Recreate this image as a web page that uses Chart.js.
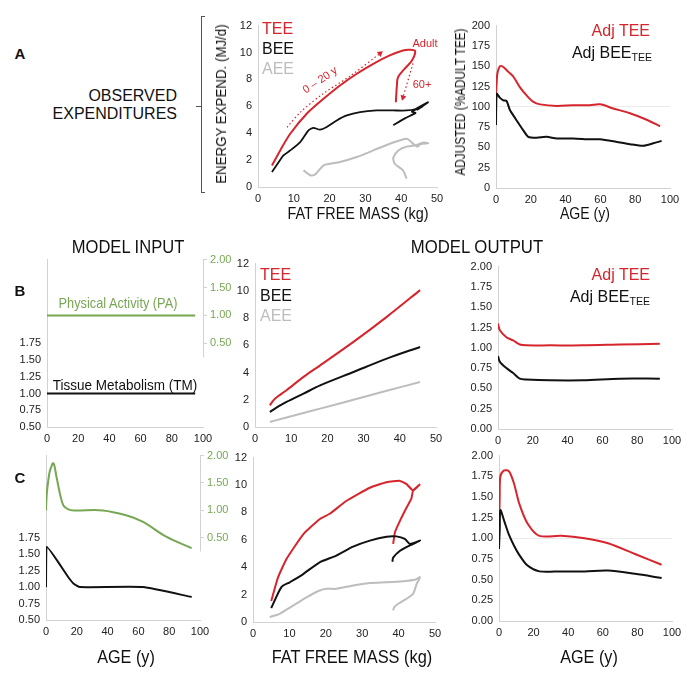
<!DOCTYPE html>
<html>
<head>
<meta charset="utf-8">
<script src="https://cdn.jsdelivr.net/npm/chart.js@4.4.0/dist/chart.umd.min.js"></script>
<style>
  body { margin: 0; background: #fff; }
  #fig { position: relative; width: 695px; height: 681px; overflow: hidden; background: #fff;
         font-family: 'Liberation Sans', Arial, sans-serif; color: #111; }
  #fig canvas { position: absolute; }
  .t { position: absolute; white-space: nowrap; line-height: 1; }
  .t sub { font-size: 0.66em; vertical-align: -0.25em; line-height: 0; }
</style>
</head>
<body>
<div id="fig"></div>
<script>
// ---- A: observed expenditures vs fat free mass (kg, MJ/d) ----
const obsFfmTee = [3.9, 6.2, 9, 13.6, 18.3, 22.9, 27.6, 32.2, 36.8, 40.5, 42.5, 43.9, 43, 41, 39.1, 38.8, 38.5];
const obsTee    = [1.6, 2.72, 3.96, 5.45, 6.56, 7.55, 8.42, 9.16, 9.78, 10.15, 10.2, 10.1, 9.4, 8.8, 8.15, 7.55, 6.3];
const obsFfmBee = [3.9, 5.8, 7.1, 9, 11.8, 14.1, 15.5, 17.3, 19.2, 22, 24.8, 28.5, 33.1, 37.8, 41.5, 44, 46, 47.5, 44.5, 46, 43, 44, 41, 37.8];
const obsBee    = [1.11, 1.86, 2.35, 2.72, 3.34, 4.21, 4.4, 4.26, 4.46, 4.95, 5.32, 5.57, 5.69, 5.69, 5.69, 5.8, 6.1, 6.3, 5.75, 6.0, 5.6, 5.5, 5.1, 4.6];
const obsFfmAee = [12.7, 14.6, 16, 18.3, 20.1, 22.9, 27.6, 32.2, 36.8, 41.5, 43, 44.5, 45.5, 47.5, 46, 44, 41.5, 39.2, 37.8, 38.2, 40.5, 41.5];
const obsAee    = [1.24, 0.87, 0.94, 1.61, 1.73, 1.86, 2.23, 2.72, 3.22, 3.59, 3.3, 3.0, 3.2, 3.25, 3.3, 3.1, 3.0, 2.72, 2.2, 1.73, 1.24, 0.62];
// dotted annotation arrows
const arrowYoungFfm = [8.1, 12, 18, 26, 34.1];
const arrowYoungMj  = [4.44, 5.6, 6.9, 8.3, 9.93];
const arrowOldFfm   = [43.3, 40.5];
const arrowOldMj    = [9.19, 6.67];

// ---- A: adjusted expenditures vs age (% adult TEE) ----
const obsAgeTee = [0, 0.4, 0.8, 2.3, 4.2, 7.1, 10, 13.8, 17.6, 21.5, 25.3, 35, 44.4, 54, 59.8, 67.4, 77, 86.6, 94.3];
const obsAdjTee = [115, 130, 141, 150, 149, 143, 137, 124, 114, 106, 103, 101, 102, 102, 103, 98, 92, 84, 76];
const obsAgeBee = [0, 0.4, 2.3, 4.2, 6.1, 8, 11, 15.7, 18.6, 23.4, 29, 35, 44.4, 54, 59.8, 69, 77, 84.7, 90.4, 95.2];
const obsAdjBee = [77.6, 116, 111, 108, 107, 96, 86, 71, 63, 62, 63, 61, 61, 60, 60, 57, 54, 52, 55, 58];

// ---- B: model with constant inputs ----
const inAgeB = [0, 95];
const paB    = [1, 1];
const tmB    = [1, 1];
const ffmB   = [4.1, 5.5, 8.7, 13.4, 18, 27.2, 36.4, 45.6];
const teeB   = [1.59, 2.08, 2.7, 3.68, 4.53, 6.25, 8.09, 10.05];
const beeB   = [1.1, 1.35, 1.84, 2.45, 3.06, 4.04, 5.02, 5.88];
const aeeB   = [0.37, 0.47, 0.7, 1.03, 1.35, 2.0, 2.66, 3.31];
const ageB   = [0, 1, 4.8, 8.7, 12.5, 16.3, 30, 49, 70, 93];
const adjTeeB = [1.30, 1.22, 1.13, 1.09, 1.04, 1.03, 1.03, 1.03, 1.04, 1.05];
const adjBeeB = [0.90, 0.83, 0.75, 0.69, 0.62, 0.61, 0.60, 0.60, 0.62, 0.62];

// ---- C: model with age-varying inputs ----
const paAgeC = [0, 0.5, 1.5, 2.6, 4.8, 6.9, 9.1, 11.3, 14.5, 18, 37, 52, 63, 78, 94.6];
const paC    = [1.0, 1.3, 1.55, 1.73, 1.86, 1.6, 1.3, 1.09, 1.02, 1.0, 1.0, 0.91, 0.79, 0.52, 0.31];
const tmAgeC = [0, 0.5, 14.5, 18, 22, 63, 94.6];
const tmC    = [1.0, 1.61, 1.15, 1.05, 1.0, 1.0, 0.85];
const teeFfmC = [5.0, 6.9, 9.2, 13.8, 18.3, 21.1, 25.7, 32.1, 36.7, 40.4, 42.2, 44, 45.9, 44, 43.5, 42.2, 40.4, 39, 38.5];
const teeC    = [1.53, 3.27, 4.6, 6.4, 7.5, 7.9, 8.85, 9.8, 10.2, 10.3, 10.06, 9.6, 10.06, 9.6, 9.0, 8.36, 7.4, 6.55, 5.7];
const beeFfmC = [5.0, 7.8, 10.1, 13.8, 18.3, 22.9, 27.5, 32.1, 36.7, 39.4, 41.7, 43.1, 45.9, 43.1, 40.4, 38.5, 38.3];
const beeC    = [1.02, 2.55, 2.9, 3.5, 4.36, 4.85, 5.5, 5.94, 6.23, 6.25, 6.06, 5.7, 5.94, 5.6, 5.2, 4.7, 4.4];
const aeeFfmC = [4.6, 7.3, 11, 14.7, 18.3, 20.2, 22.9, 27.5, 32.1, 36.7, 41.3, 44.5, 45.9, 45, 44, 42.2, 39.9, 38.8, 38.5];
const aeeC    = [0.36, 0.6, 1.2, 1.8, 2.3, 2.42, 2.42, 2.67, 2.84, 2.9, 2.98, 3.08, 3.27, 2.8, 2.06, 1.7, 1.33, 1.09, 0.85];
const ageC    = [0, 0.4, 0.8, 3, 5.8, 8.7, 11.7, 16.5, 23.3, 36, 49.5, 63, 78.6, 94];
const adjTeeC = [1.0, 1.5, 1.75, 1.82, 1.81, 1.66, 1.42, 1.18, 1.03, 1.03, 1.0, 0.94, 0.81, 0.68];
const adjBeeC = [0.87, 1.1, 1.34, 1.21, 1.04, 0.91, 0.80, 0.67, 0.6, 0.6, 0.6, 0.61, 0.57, 0.52];

const RED = '#d6252d', BLACK = '#111111', GREY = '#bdbdbd', GREEN = '#78a754';
const AXIS = '#d2d2d2', TICK = '#222222';

Chart.defaults.font.family = "'Liberation Sans', Arial, sans-serif";
Chart.defaults.font.size = 11;
Chart.defaults.color = TICK;

const fig = document.getElementById('fig');
const pts = (xs, ys) => xs.map((x, i) => ({ x: x, y: ys[i] }));

function line(xs, ys, color, extra) {
  return Object.assign({
    data: pts(xs, ys), borderColor: color, backgroundColor: color,
    showLine: true, pointRadius: 0, borderWidth: 2, tension: 0.3
  }, extra || {});
}

function xAxis(min, max, step) {
  return {
    type: 'linear', position: 'bottom', min: min, max: max,
    grid: { display: false, drawTicks: false }, border: { color: AXIS },
    ticks: { stepSize: step, padding: 5, maxRotation: 0, autoSkip: false }
  };
}

function yAxis(min, max, step, fmt, o) {
  o = o || {};
  const show = o.show || (() => true);
  return {
    type: 'linear', position: o.right ? 'right' : 'left', min: min, max: max,
    grid: {
      display: o.ref !== undefined || !!o.right,
      drawOnChartArea: o.ref !== undefined,
      drawTicks: !!o.right, tickLength: 4,
      color: c => (o.ref !== undefined && c.tick && Math.abs(c.tick.value - o.ref) < 1e-6) ? '#ebebeb' : 'rgba(0,0,0,0)',
      tickColor: c => (c.tick && show(c.tick.value)) ? AXIS : 'rgba(0,0,0,0)'
    },
    border: { display: !o.right, color: AXIS },
    ticks: {
      stepSize: step, padding: o.right ? 3 : 6, color: o.color || TICK, autoSkip: false,
      callback: v => show(v) ? fmt(v) : ''
    }
  };
}

// right axis line of the input panels only runs over the shown ticks
const partialRightAxis = {
  id: 'partialRightAxis',
  afterDraw(chart) {
    const s = chart.scales.y2, ctx = chart.ctx;
    ctx.save();
    ctx.strokeStyle = AXIS; ctx.lineWidth = 1;
    ctx.beginPath();
    ctx.moveTo(s.left + 0.5, s.getPixelForValue(2));
    ctx.lineTo(s.left + 0.5, s.getPixelForValue(0.25));
    ctx.stroke();
    ctx.restore();
  }
};

function panel(box, datasets, scales, plugins) {
  const hasRight = !!scales.y2;
  const yW = 50, y2W = hasRight ? 36 : 0, padT = 12, padR = hasRight ? 4 : 22, xH = 26;
  const c = document.createElement('canvas');
  c.width = box.r - box.l + yW + y2W + padR;
  c.height = box.b - box.t + padT + xH;
  c.style.left = (box.l - yW) + 'px';
  c.style.top = (box.t - padT) + 'px';
  fig.appendChild(c);
  scales.x.afterFit = s => { s.height = xH; };
  scales.y.afterFit = s => { s.width = yW; };
  if (hasRight) scales.y2.afterFit = s => { s.width = y2W; };
  new Chart(c, {
    type: 'scatter',
    data: { datasets: datasets },
    options: {
      responsive: false, animation: false,
      layout: { padding: { top: padT, right: padR, left: 0, bottom: 0 } },
      plugins: { legend: { display: false }, tooltip: { enabled: false } },
      scales: scales
    },
    plugins: plugins || []
  });
}

function label(html, x, y, o) {
  o = o || {};
  const d = document.createElement('div');
  d.className = 't';
  d.innerHTML = html;
  d.style.fontSize = (o.size || 16) + 'px';
  d.style.color = o.color || '#111';
  if (o.bold) d.style.fontWeight = 'bold';
  const sx = o.sx || 1, rot = o.rot || 0;
  if (o.align === 'right') {
    d.style.right = (695 - x) + 'px';
    d.style.top = y + 'px';
    d.style.transformOrigin = 'right center';
    d.style.transform = `translateY(-50%) scaleX(${sx})`;
  } else if (o.align === 'left') {
    d.style.left = x + 'px';
    d.style.top = y + 'px';
    d.style.transformOrigin = 'left center';
    d.style.transform = `translateY(-50%) scaleX(${sx})`;
  } else {
    d.style.left = x + 'px';
    d.style.top = y + 'px';
    d.style.transform = `translate(-50%,-50%) rotate(${rot}deg) scaleX(${sx})`;
  }
  fig.appendChild(d);
}

function box(l, t, w, h, css) {
  const d = document.createElement('div');
  d.style.cssText = `position:absolute;left:${l}px;top:${t}px;width:${w}px;height:${h}px;` + css;
  fig.appendChild(d);
}

const f0 = v => String(v);
const f2 = v => v.toFixed(2);

// ---- row A ----
panel({ l: 258, t: 25, r: 437, b: 187 }, [
  line(obsFfmAee, obsAee, GREY, { tension: 0.25 }),
  line(obsFfmBee, obsBee, BLACK, { tension: 0.2, borderWidth: 1.8 }),
  line(obsFfmTee, obsTee, RED, { tension: 0.3 }),
  line(arrowYoungFfm, arrowYoungMj, RED, {
    borderWidth: 1.2, borderDash: [1.5, 2.5], tension: 0.3,
    pointRadius: [0, 0, 0, 0, 3.5], pointStyle: 'triangle', rotation: 53, pointBorderWidth: 0
  }),
  line(arrowOldFfm, arrowOldMj, RED, {
    borderWidth: 1.2, borderDash: [1.5, 2.5],
    pointRadius: [0, 3.5], pointStyle: 'triangle', rotation: 196, pointBorderWidth: 0
  })
], { x: xAxis(0, 50, 10), y: yAxis(0, 12, 2, f0) });

panel({ l: 496, t: 25, r: 670, b: 188 }, [
  line(obsAgeBee, obsAdjBee, BLACK, { tension: 0.25 }),
  line(obsAgeTee, obsAdjTee, RED, { tension: 0.3 })
], { x: xAxis(0, 100, 20), y: yAxis(0, 200, 25, f0, { ref: 100 }) });

// ---- row B ----
panel({ l: 47, t: 259, r: 203, b: 427 }, [
  line(inAgeB, tmB, BLACK, { yAxisID: 'y' }),
  line(inAgeB, paB, GREEN, { yAxisID: 'y2' })
], {
  x: xAxis(0, 100, 20),
  y: yAxis(0.5, 3.0, 0.25, f2, { show: v => v <= 1.7501 }),
  y2: yAxis(-1, 2, 0.5, f2, { right: true, color: GREEN, show: v => v >= 0.4999 })
}, [partialRightAxis]);

panel({ l: 255, t: 263, r: 436, b: 427 }, [
  line(ffmB, aeeB, GREY),
  line(ffmB, beeB, BLACK),
  line(ffmB, teeB, RED)
], { x: xAxis(0, 50, 10), y: yAxis(0, 12, 2, f0) });

panel({ l: 498, t: 266, r: 672, b: 429 }, [
  line(ageB, adjBeeB, BLACK),
  line(ageB, adjTeeB, RED)
], { x: xAxis(0, 100, 20), y: yAxis(0, 2, 0.25, f2) });

// ---- row C ----
panel({ l: 46, t: 455, r: 200, b: 620 }, [
  line(tmAgeC, tmC, BLACK, { yAxisID: 'y', tension: 0.15 }),
  line(paAgeC, paC, GREEN, { yAxisID: 'y2', tension: 0.35 })
], {
  x: xAxis(0, 100, 20),
  y: yAxis(0.5, 3.0, 0.25, f2, { show: v => v <= 1.7501 }),
  y2: yAxis(-1, 2, 0.5, f2, { right: true, color: GREEN, show: v => v >= 0.4999 })
}, [partialRightAxis]);

panel({ l: 253, t: 457, r: 435, b: 622 }, [
  line(aeeFfmC, aeeC, GREY, { tension: 0.2 }),
  line(beeFfmC, beeC, BLACK, { tension: 0.2 }),
  line(teeFfmC, teeC, RED, { tension: 0.15 })
], { x: xAxis(0, 50, 10), y: yAxis(0, 12, 2, f0) });

panel({ l: 499, t: 455, r: 672, b: 621 }, [
  line(ageC, adjBeeC, BLACK),
  line(ageC, adjTeeC, RED)
], { x: xAxis(0, 100, 20), y: yAxis(0, 2, 0.25, f2, { ref: 1 }) });

// ---- texts ----
label('A', 20, 53, { size: 15, bold: true });
label('B', 20, 290, { size: 15, bold: true });
label('C', 20, 477, { size: 15, bold: true });
label('OBSERVED', 177, 96, { size: 16, align: 'right' });
label('EXPENDITURES', 177, 114, { size: 16, align: 'right' });
box(201, 16, 3, 175, 'border-left:1px solid #555;border-top:1px solid #555;border-bottom:1px solid #555;');
box(196, 106, 5, 0, 'border-top:1px solid #555;');

label('ENERGY EXPEND. (MJ/d)', 221, 104, { size: 14, rot: -90, sx: 0.95 });
label('FAT FREE MASS (kg)', 358, 214, { size: 16, sx: 0.9 });
label('ADJUSTED (%ADULT TEE)', 460, 102, { size: 14, rot: -90, sx: 0.84 });
label('AGE (y)', 585, 214, { size: 16, sx: 0.88 });

label('TEE', 262, 29, { size: 16, color: RED, align: 'left' });
label('BEE', 262, 49, { size: 16, color: BLACK, align: 'left' });
label('AEE', 262, 69, { size: 16, color: GREY, align: 'left' });
label('Adult', 425, 43, { size: 11, color: RED });
label('60+', 422, 84, { size: 11, color: RED });
label('0 \u2013 20 y', 320, 80, { size: 11, color: RED, rot: -34 });
label('Adj TEE', 650, 31, { size: 16, color: RED, align: 'right' });
label('Adj BEE<sub>TEE</sub>', 652, 53, { size: 16, color: BLACK, align: 'right' });

label('MODEL INPUT', 128, 247, { size: 18, sx: 0.92 });
label('MODEL OUTPUT', 477, 247, { size: 18, sx: 0.93 });
label('Physical Activity (PA)', 118, 302, { size: 15, color: GREEN, sx: 0.85 });
label('Tissue Metabolism (TM)', 125, 384, { size: 15, color: BLACK, sx: 0.9 });
label('TEE', 260, 275, { size: 16, color: RED, align: 'left' });
label('BEE', 260, 296, { size: 16, color: BLACK, align: 'left' });
label('AEE', 260, 316, { size: 16, color: GREY, align: 'left' });
label('Adj TEE', 650, 275, { size: 16, color: RED, align: 'right' });
label('Adj BEE<sub>TEE</sub>', 650, 297, { size: 16, color: BLACK, align: 'right' });

label('AGE (y)', 126, 657, { size: 18, sx: 0.9 });
label('FAT FREE MASS (kg)', 352, 657, { size: 18, sx: 0.91 });
label('AGE (y)', 589, 657, { size: 18, sx: 0.9 });
</script>
</body>
</html>
